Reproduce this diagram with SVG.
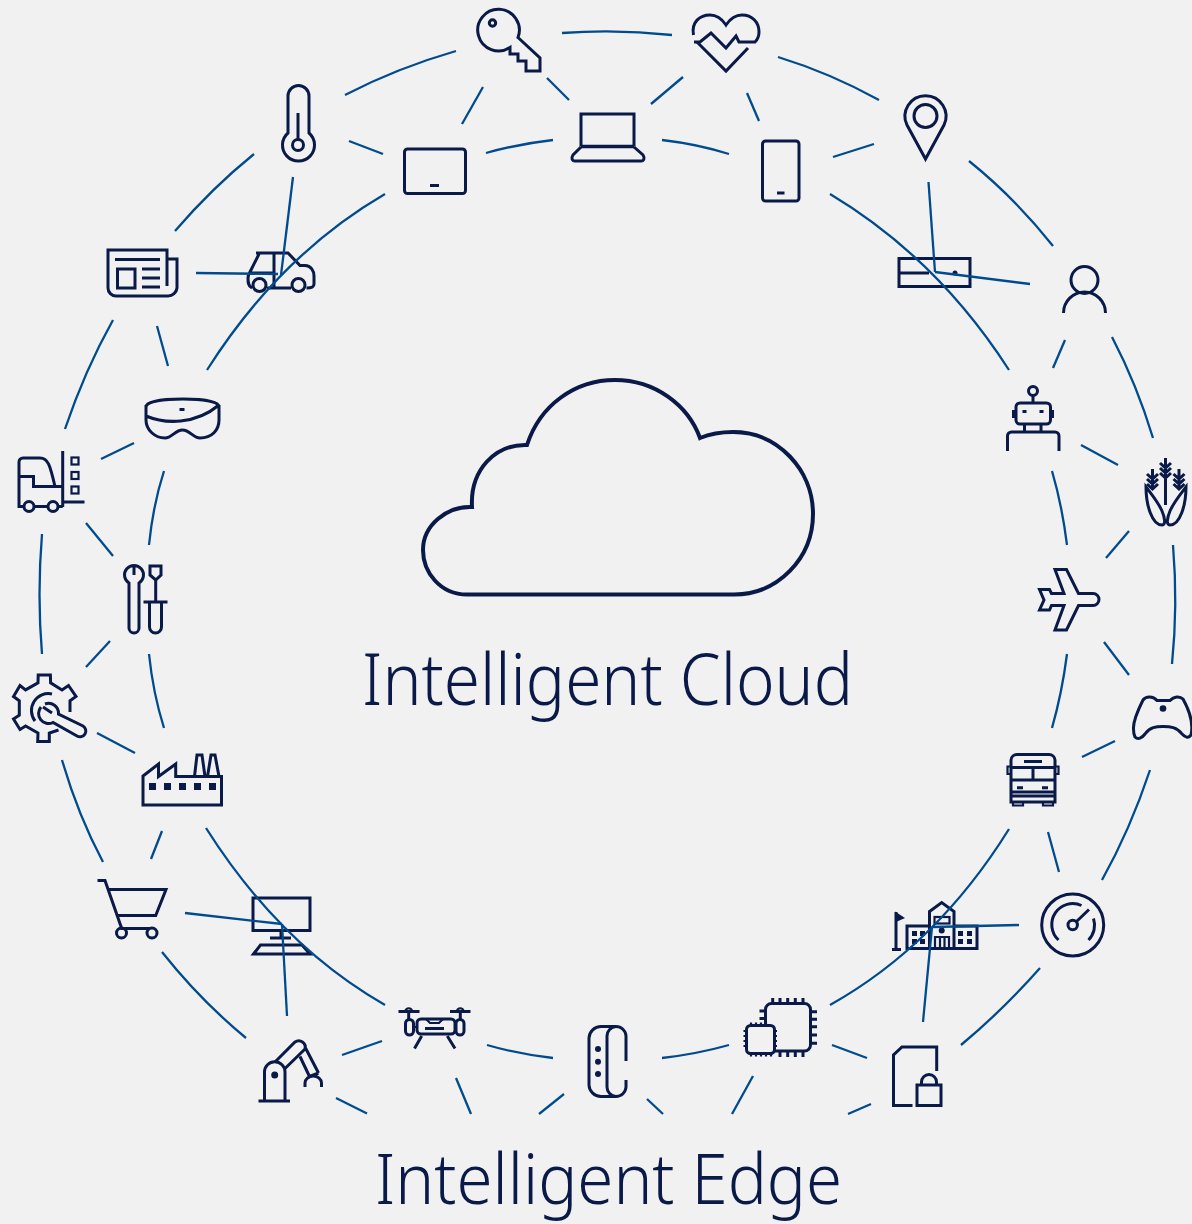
<svg xmlns="http://www.w3.org/2000/svg" width="1192" height="1224" viewBox="0 0 1192 1224">
<style>
.i{fill:none;stroke:#0a1a48;stroke-width:3;stroke-linejoin:miter}
.t{stroke-width:2.200}
.f{fill:#0a1a48;stroke:none}
.c path{fill:none;stroke:#004b8d;stroke-width:2.300}
text{font-family:"Noto Sans","Open Sans","Liberation Sans",sans-serif;font-weight:300;fill:#0a1a48;font-size:71px}
</style>
<rect width="1192" height="1224" fill="#f1f1f1"/>
<g id="cloud"><path class="i" style="stroke-width:4" d="M467,594.500C440,594.500 423,572 423,550C423,525 447,506 472,507C470,470 495,444 527,445C540,405 575,380 615,380C655,380 688,405 700,438C712,433 722,432 733,432C778,432 813,470 813,514C813,558 778,595 733,594.500Z"/>
<text x="362" y="705" textLength="491" lengthAdjust="spacingAndGlyphs">Intelligent Cloud</text></g>
<g id="edge-label"><text x="375" y="1203.500" textLength="467" lengthAdjust="spacingAndGlyphs" style="font-size:69px">Intelligent Edge</text></g>
<g id="key"><path class="i" d="M518,37.500L540,58V71H526V61H518V54H510V47.500A20.800,20.800 0 1 1 518,37.500Z"/><circle class="i" cx="492.500" cy="23" r="3.200"/></g>
<g id="heart"><path class="i" d="M693.500,35C691,22 700,15 710,15C716,15 722,19 726,25C730,19 736,15 742,15C752,15 759,22 759,32C759,37 757,40 755,42H739L736,36L726,48L711,33L700,42H694"/><path class="i" d="M697,42L726,71L748,48"/></g>
<g id="thermometer"><path class="i" d="M288,133V96A10.500,10.500 0 0 1 309,96V133A16,16 0 1 1 288,133Z"/><circle class="i" cx="298" cy="145" r="5.500"/><path class="i" d="M298,113V139"/></g>
<g id="tablet"><rect class="i" x="404.500" y="149" width="61" height="44.500" rx="3"/><path class="i" d="M430,185.500H439"/></g>
<g id="laptop"><path class="i" d="M581,146.500V114H634V146.500"/><path class="i" style="stroke-width:3.500" d="M581,146.500H634"/><path class="i" d="M581,147L573,155C571,158 572,161 575,161H641C644,161 645,158 643,155L634,147"/></g>
<g id="phone"><rect class="i" x="762.500" y="141" width="36.500" height="60" rx="3"/><path class="i" d="M777,193H784.500"/></g>
<g id="pin"><path class="i" d="M925.500,159L907,125A20.500,20.500 0 1 1 944,125Z"/><circle class="i" cx="925.500" cy="116" r="11.500"/></g>
<g id="server"><rect class="i" x="899" y="258.500" width="71" height="28"/><path class="i" d="M899,273H929"/><circle class="f" cx="955" cy="273" r="2.500"/></g>
<g id="person"><circle class="i" cx="1084.500" cy="280" r="13.500"/><path class="i" d="M1063.500,313A21,21 0 0 1 1105.500,313"/></g>
<g id="robot"><rect class="i" x="1016" y="403" width="34.500" height="21" rx="4"/><path class="i" d="M1013.500,410V418M1052.500,410V418M1033,402V396M1024.500,424V432M1041,424V432M1007.500,451V436A4,4 0 0 1 1011.500,432H1055A4,4 0 0 1 1059,436V451"/><circle class="i" cx="1033" cy="391" r="4.500"/><path class="i" d="M1022.500,411.500H1026.500M1039.500,411.500H1043.500"/></g>
<g id="corn"><path class="i" d="M1146,487C1146,505 1152,525 1162,525C1166,525 1165,518 1162,511C1158,502 1152,495 1146,487Z"/><path class="i" d="M1186,487C1186,505 1180,525 1170,525C1166,525 1167,518 1170,511C1174,502 1180,495 1186,487Z"/><path class="i" d="M1165.500,458V505M1160,463L1165.500,468L1171,463M1160,468L1165.500,473L1171,468M1160,473L1165.500,478L1171,473M1152.500,469V489M1147,474L1152.500,479L1158,474M1147,479L1152.500,484L1158,479M1147,484L1152.500,489L1158,484M1179,469V489M1173.500,474L1179,479L1184.500,474M1173.500,479L1179,484L1184.500,479M1173.500,484L1179,489L1184.500,484"/></g>
<g id="plane"><path class="i" d="M1093,593.500H1078.500L1066.500,569.500H1055L1064,593.500H1051.500L1049.500,589.500H1039.500L1044,600L1039.500,610H1049.500L1051.500,605.500H1064L1055,630H1066.500L1078.500,605.500H1093A6,6 0 0 0 1093,593.500Z"/></g>
<g id="controller"><path class="i" d="M1133.500,729C1133,722 1138,710 1143,700C1146,696 1153,696 1157,700.500H1170C1174,696 1180,696 1183,699C1188,708 1194,722 1191,735C1188,739 1185,737 1182,734C1177,727 1170,726.500 1163,726.500C1156,726.500 1150,727 1145,734C1142,738 1138,740 1135,737C1134,735 1133.500,732 1133.500,729Z"/><circle class="f" cx="1163" cy="708.500" r="3.300"/></g>
<g id="bus"><path class="i" d="M1011,802V760A6,6 0 0 1 1017,754.500H1049A6,6 0 0 1 1055,760V802ZM1011,767.500H1055M1011,780H1055M1011,792H1055M1033,767.500V780M1011,796H1055"/><path class="i" d="M1024,761.500H1042M1017,787.700H1023M1042,787.700H1048"/><path class="i t" d="M1013,802V805.500H1023V802M1043,802V805.500H1053V802M1010,766.500H1007.500V774H1010M1056,766.500H1058.500V774H1056"/></g>
<g id="gauge"><circle class="i" cx="1072.700" cy="925" r="31"/><path class="i" d="M1058.500,940A21,21 0 0 1 1081.500,905.500M1093.500,918.500A21,21 0 0 1 1088.500,940M1076.500,921.500L1089,909.500"/><circle class="i" cx="1072.700" cy="925" r="4.700"/></g>
<g id="school"><path class="i" d="M896,912V949M892,949.500H901"/><path class="f" d="M895,911.500L905,918L896,922Z"/><path class="i" d="M907,948.500V926H929.500V948.500ZM954,926H977V948.500H907M929.500,948.500V911.500L941.700,902.500L954,911.500V948.500"/><rect class="i t" x="934.500" y="917" width="15" height="6.500"/><circle class="f" cx="941.700" cy="930.500" r="3"/><path class="i t" d="M935,948V937H949V948M940,937V948M944.500,937V948"/><path class="f" d="M912,931h5v5h-5zM920,931h5v5h-5zM912,939h5v5h-5zM920,939h5v5h-5zM958,931h5v5h-5zM967,931h5v5h-5zM958,939h5v5h-5zM967,939h5v5h-5z"/></g>
<g id="lock"><path class="i" d="M936.700,1071V1047H902L893.500,1055V1105.500H912.500"/><rect class="i" x="917" y="1085" width="24" height="20.500"/><path class="i" d="M921.500,1085V1082A7.500,7.500 0 0 1 936.500,1082V1085"/></g>
<g id="chip"><rect class="i" x="765.500" y="1003.500" width="45" height="47.500" rx="6"/><path class="i" d="M772.700,998V1003M780,998V1003M787.700,998V1003M795.300,998V1003M803,998V1003M811,1011.700H817M811,1019.300H817M811,1026.700H817M811,1035H817M811,1043.300H817M780,1051V1057M787.700,1051V1057M795.300,1051V1057M803,1051V1057M759.500,1011H765M759.500,1018.500H765"/><rect class="i" x="746.500" y="1025.500" width="28" height="28" rx="4" style="fill:#f1f1f1"/><path class="i t" d="M751,1022.500V1025M756,1022.500V1025M761,1022.500V1025M766,1022.500V1025M751,1054V1056.500M756,1054V1056.500M761,1054V1056.500M766,1054V1056.500M771,1054V1056.500M743.500,1031H746M743.500,1036H746M743.500,1041H746M743.500,1046H746M775,1031H777M775,1036H777M775,1041H777M775,1046H777"/></g>
<g id="band"><path class="i" d="M626,1061V1036A10,10 0 0 0 616,1026.500H601A12,12 0 0 0 589,1038V1085A12,12 0 0 0 601,1096.500H616A10,10 0 0 0 626,1087V1080"/><path class="i" d="M616,1026.500A9.500,9.500 0 0 0 607,1036V1087A9.500,9.500 0 0 0 616,1096.500"/><circle class="f" cx="598" cy="1049" r="3"/><circle class="f" cx="598" cy="1061.700" r="3"/><circle class="f" cx="598" cy="1074" r="3"/></g>
<g id="drone"><path class="i" d="M398.500,1011.500H419.500M450,1011.500H470.500M408.700,1011.500V1019M460.300,1011.500V1019"/><path class="i t" d="M405.500,1011A3.300,3.300 0 0 1 412,1011M457,1011A3.300,3.300 0 0 1 463.500,1011"/><rect class="i" x="405.500" y="1019.500" width="8" height="15.500" rx="4"/><rect class="i" x="456" y="1019.500" width="8" height="15.500" rx="4"/><rect class="i" x="417" y="1019" width="38" height="15" rx="4"/><path class="i t" d="M413.500,1027H417M455,1027H456M426,1019L430,1023H439L443,1019"/><path class="i" d="M425,1028.500H444M421.700,1036L414.500,1048.500M447.300,1036L455,1048.500"/></g>
<g id="robot-arm"><path class="i" d="M258.500,1101H290M264.500,1101V1072A10.200,10.200 0 0 1 285,1072V1101"/><circle class="f" cx="274.700" cy="1075" r="3.500"/><path class="i" d="M275,1062L295,1042A6.500,6.500 0 0 1 305,1049L284.500,1069M305,1047L318.500,1073M300,1056.500L309.500,1076.500L318.500,1073"/><path class="i" d="M305,1087V1083A8.200,7 0 0 1 321.500,1083V1087"/></g>
<g id="monitor"><rect class="i" x="253" y="898" width="57" height="32.500"/><path class="i" d="M281,930.500V938M270,938H291M253.500,954L260.500,945H302L310,954Z"/></g>
<g id="cart"><path class="i" d="M97.500,880.500H105L121.700,928.500H150M107.500,889.500H166L155.700,915.500H117"/><circle class="i" cx="121.500" cy="933" r="5"/><circle class="i" cx="152" cy="933" r="5"/></g>
<g id="factory"><path class="i" d="M143,805V776L158.500,764V776.500L175.700,764V776.500H221.500V805ZM194.500,776.500L197,755H202L205,776.500M207.500,776.500L211,755H215L219,776.500"/><path class="f" d="M149,783h7v7h-7zM164,783h7v7h-7zM179,783h7v7h-7zM194,783h7v7h-7zM209,783h7v7h-7z"/></g>
<g id="gear"><path class="i" d="M70,712V700.800L76,696.500L68.500,685.500L62,689.900L50.600,682.800L50.400,675H38.200L38,682.800L25.600,689.900L20,685.500L13.500,696.500L19.300,700.800V715.200L13.500,719L20,729.500L25.600,726L38,733L37.700,741.500H49.300V733L58.500,730"/><path class="i" d="M52,694A17,17 0 0 0 35,721"/><path class="i" d="M41,707A10,10 0 0 0 53,722.500L77,736A5.500,5.500 0 0 0 83,726L58.500,714A10,10 0 0 0 45,704M43,707L52,713"/></g>
<g id="tools"><path class="i" d="M129,583V628A5,5 0 0 0 139,628V583A9.500,9.500 0 1 0 129,583ZM134,566V575"/><path class="i" d="M150,566H161V575L155.700,580L150,575ZM155.700,580V602M143.500,602H167.500M149.500,602V627A6,6 0 0 0 161.500,627V602"/></g>
<g id="forklift"><path class="i" d="M62.700,451V507M62.700,502H84.500M24,506.500H19V462A4,4 0 0 1 23,458H40C48,458 50,465 55,486.500M19,476.500H33.500V486.500H62.700M34,506.500H48M58,506.500H62.700"/><circle class="i" cx="29" cy="506.500" r="5"/><circle class="i" cx="53" cy="506.500" r="5"/><rect class="i t" x="71.500" y="457.500" width="7" height="7"/><rect class="i t" x="71.500" y="472" width="7" height="7"/><rect class="i t" x="71.500" y="486.500" width="7" height="7"/></g>
<g id="glasses"><path class="i" d="M146,407C146,401 165,399 183,399C201,399 219,401 219,407M146,416C165,424 195,425 219,405M146,405V420C146,430 155,438 165,438C172,438 175,430 182.500,430C190,430 193,438 200,438C212,438 219,430 219,420V405"/><path class="i" d="M179.500,409.500H184.500"/></g>
<g id="newspaper"><path class="i" d="M167,286V250H108V288A8,8 0 0 0 116,296H168A9,9 0 0 0 177,288V259H167M115,259.500H160M117.500,269H135V288H117.500ZM142,269H160M142,278H160M142,287H160"/></g>
<g id="car"><path class="i" d="M256,253H288L300,265.500H305C311,265.500 314,271 314,276V284C314,287 312,288 306.500,288M291,288H267M252,288C248,286 248,282 248,278C248,274 250,272 251,270L259,254M274,253V288M250,273H274"/><circle class="i" cx="259.500" cy="285" r="6.500"/><circle class="i" cx="298.500" cy="285" r="6.500"/></g>
<g id="connectors" class="c">
<path d="M562,33Q617,29 672,35"/><path d="M778,57Q830,73 879,100"/><path d="M969,161Q1015,198 1053,246"/><path d="M1112,337Q1137,385 1153,438"/><path d="M1173,545Q1178,605 1172,664"/><path d="M1150,770Q1130,830 1102,880"/><path d="M1040,968Q1003,1010 961,1045"/><path d="M246,1038Q200,1000 162,952"/><path d="M103,862Q78,815 62,760"/><path d="M42,654Q37,595 42,534"/><path d="M65,429Q85,370 113,320"/><path d="M175,231Q212,188 254,154"/><path d="M345,95Q397,68 456,51"/>
<path d="M486,153Q518,144 553,140"/><path d="M662,140Q697,144 729,154"/><path d="M830,194Q937,258 1009,370"/><path d="M1052,471Q1062,505 1067,545"/><path d="M1067,654Q1062,693 1052,728"/><path d="M1009,829Q937,945 830,1005"/><path d="M729,1045Q697,1054 662,1058"/><path d="M553,1058Q518,1054 487,1045"/><path d="M385,1005Q280,945 206,828"/><path d="M164,728Q153,693 149,654"/><path d="M149,545Q153,505 164,471"/><path d="M207,370Q280,255 385,194"/>
<path d="M547,78L569,100"/><path d="M483,87L462,124"/><path d="M683,77L651,104"/><path d="M747,93L759,121"/><path d="M349,141L383,154"/><path d="M874,144L833,157"/><path d="M293,177L281,275"/><path d="M196,273L278,274"/><path d="M928.500,182L935,272"/><path d="M1030,284L935,272"/><path d="M1065,340L1053,368"/><path d="M1118,465L1081,445"/><path d="M1129,531L1106,558"/><path d="M1129,675L1104,642"/><path d="M1115,741L1082,757"/><path d="M1059,872L1048,832"/><path d="M1019,925L933,927"/><path d="M923,1022L932,927"/><path d="M867,1058L832,1045"/><path d="M342,1055L382,1041"/><path d="M185,913L282,924"/><path d="M287,1016L282,924"/><path d="M157,326L168,366"/><path d="M101,459L134,443"/><path d="M86,523L113,556"/><path d="M86,667L110,641"/><path d="M97,733L135,753"/><path d="M151,859L162,831"/>
<path d="M336,1098L367,1113.500"/><path d="M456,1078L471,1114"/><path d="M564,1094L539,1114"/><path d="M647,1099L663,1114"/><path d="M753,1076L732,1114"/><path d="M871,1104L848,1114"/>
</g>
</svg>
